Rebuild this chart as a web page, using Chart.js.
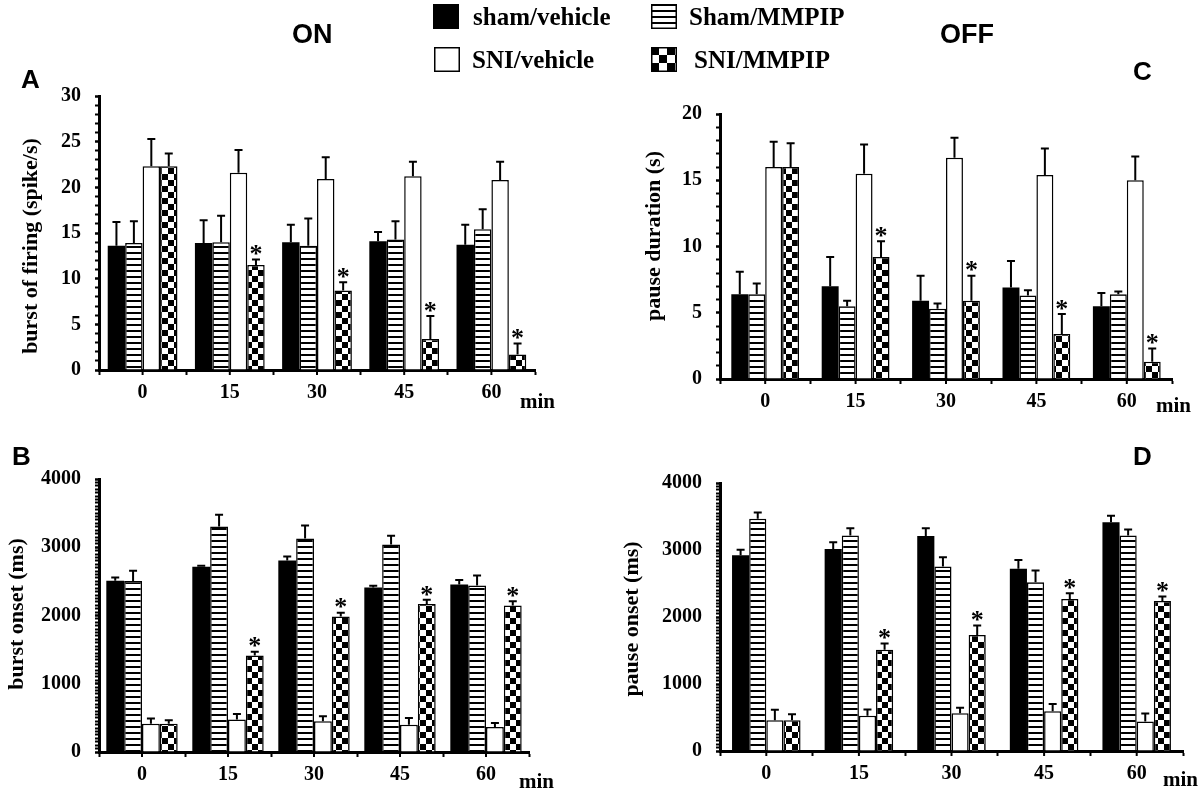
<!DOCTYPE html>
<html>
<head>
<meta charset="utf-8">
<title>ON / OFF cell firing</title>
<script src="https://cdn.jsdelivr.net/npm/chart.js@4/dist/chart.umd.min.js"></script>
<style>
    body { margin: 0; background: #fff; }
    #fig { position: relative; width: 1200px; height: 794px; }
    #fig canvas { position: absolute; left: 0; top: 0; }
</style>
</head>
<body>
<div id="fig">
    <canvas id="chartA" width="1200" height="794"></canvas>
    <canvas id="chartB" width="1200" height="794"></canvas>
    <canvas id="chartC" width="1200" height="794"></canvas>
    <canvas id="chartD" width="1200" height="794"></canvas>
</div>
<script>
/* ---------- data ---------- */
const minutes = ['0', '15', '30', '45', '60'];
const groupNames = ['sham/vehicle', 'Sham/MMPIP', 'SNI/vehicle', 'SNI/MMPIP'];
const sigMarks = ['', '*', '*', '*', '*'];   // over SNI/MMPIP

// A: burst of firing (spike/s)
const burstShamVeh = [13.6, 13.9, 14.0, 14.1, 13.7];
const burstShamVehSem = [2.6, 2.5, 1.9, 1.0, 2.2];
const burstShamMmpip = [13.9, 14.0, 13.6, 14.3, 15.4];
const burstShamMmpipSem = [2.4, 2.9, 3.0, 2.0, 2.2];
const burstSniVeh = [22.3, 21.6, 20.9, 21.2, 20.8];
const burstSniVehSem = [3.0, 2.5, 2.4, 1.6, 2.0];
const burstSniMmpip = [22.3, 11.5, 8.7, 3.4, 1.7];
const burstSniMmpipSem = [1.4, 0.6, 0.9, 2.5, 1.2];

// B: burst onset (ms)
const onsetShamVeh = [2510, 2715, 2805, 2410, 2455];
const onsetShamVehSem = [45, 15, 60, 25, 65];
const onsetShamMmpip = [2505, 3305, 3130, 3040, 2440];
const onsetShamMmpipSem = [150, 170, 190, 130, 145];
const onsetSniVeh = [415, 475, 450, 400, 365];
const onsetSniVehSem = [75, 80, 75, 100, 60];
const onsetSniMmpip = [415, 1415, 1985, 2170, 2145];
const onsetSniMmpipSem = [50, 55, 55, 60, 65];

// C: pause duration (s)
const pauseShamVeh = [6.4, 7.0, 5.9, 6.9, 5.5];
const pauseShamVehSem = [1.7, 2.2, 1.9, 2.0, 1.0];
const pauseShamMmpip = [6.4, 5.5, 5.3, 6.3, 6.4];
const pauseShamMmpipSem = [0.8, 0.4, 0.4, 0.4, 0.2];
const pauseSniVeh = [16.0, 15.5, 16.7, 15.4, 15.0];
const pauseSniVehSem = [1.9, 2.2, 1.5, 2.0, 1.8];
const pauseSniMmpip = [16.0, 9.2, 5.9, 3.4, 1.3];
const pauseSniMmpipSem = [1.8, 1.2, 1.9, 1.5, 1.0];

// D: pause onset (ms)
const pOnsetShamVeh = [2920, 3015, 3210, 2720, 3415];
const pOnsetShamVehSem = [85, 100, 115, 130, 95];
const pOnsetShamMmpip = [3465, 3215, 2755, 2520, 3215];
const pOnsetShamMmpipSem = [95, 110, 135, 175, 90];
const pOnsetSniVeh = [460, 525, 565, 595, 440];
const pOnsetSniVehSem = [155, 95, 80, 105, 120];
const pOnsetSniMmpip = [460, 1510, 1730, 2270, 2240];
const pOnsetSniMmpipSem = [90, 95, 145, 85, 65];

/* ---------- look ---------- */
const SERIF = '"Liberation Serif", "Times New Roman", serif';
const SANS = '"Liberation Sans", Arial, sans-serif';
const Y_W = 90, X_H = 45;

function makePattern(kind, cell) {
    const c = document.createElement('canvas');
    const g = c.getContext('2d');
    if (kind === 'stripes') {
        c.width = 6; c.height = 6;
        g.fillStyle = '#fff'; g.fillRect(0, 0, 6, 6);
        g.fillStyle = '#000'; g.fillRect(0, 0, 6, 2);
    } else {
        c.width = cell * 2; c.height = cell * 2;
        g.fillStyle = '#fff'; g.fillRect(0, 0, c.width, c.height);
        g.fillStyle = '#000';
        g.fillRect(0, 0, cell, cell);
        g.fillRect(cell, cell, cell, cell);
    }
    return g.createPattern(c, 'repeat');
}
const stripes = makePattern('stripes');
const checker = makePattern('checker', 6);
const checkerBig = makePattern('checker', 8);

const fills = ['#000', stripes, '#fff', checker];

/* error bars, asterisks, mid-category ticks, y title, "min" */
const panelDecor = {
    id: 'panelDecor',
    afterDatasetsDraw(chart) {
        const ctx = chart.ctx;
        const y = chart.scales.y;
        const sems = chart.options.plugins.panelDecor.sems;
        ctx.save();
        ctx.strokeStyle = '#000';
        ctx.lineWidth = 2;
        chart.data.datasets.forEach((ds, di) => {
            chart.getDatasetMeta(di).data.forEach((bar, i) => {
                const top = y.getPixelForValue(ds.data[i] + sems[di][i]);
                ctx.beginPath();
                ctx.moveTo(bar.x, bar.y);
                ctx.lineTo(bar.x, top);
                ctx.moveTo(bar.x - 4, top);
                ctx.lineTo(bar.x + 4, top);
                ctx.stroke();
                if (di === 3 && sigMarks[i]) {
                    ctx.fillStyle = '#000';
                    ctx.font = 'bold 26px ' + SERIF;
                    ctx.textAlign = 'center';
                    ctx.textBaseline = 'middle';
                    ctx.fillText(sigMarks[i], bar.x, top - 4);
                }
            });
        });
        ctx.restore();
    },
    afterDraw(chart) {
        const ctx = chart.ctx;
        const o = chart.options.plugins.panelDecor;
        const x = chart.scales.x;
        const a = chart.chartArea;
        ctx.save();
        ctx.strokeStyle = '#000';
        ctx.lineWidth = 2;
        minutes.forEach((m, i) => {
            const px = x.getPixelForValue(i);
            ctx.beginPath();
            ctx.moveTo(px, a.bottom);
            ctx.lineTo(px, a.bottom + 5);
            ctx.stroke();
        });
        ctx.fillStyle = '#000';
        ctx.font = 'bold 21px ' + SERIF;
        ctx.textAlign = 'left';
        ctx.textBaseline = 'middle';
        ctx.fillText('min', a.right + o.minDx, a.bottom + o.minDy);

        ctx.translate(o.titleX, o.titleY);
        ctx.rotate(-Math.PI / 2);
        ctx.font = 'bold 22px ' + SERIF;
        ctx.textAlign = 'center';
        ctx.fillText(o.title, 0, 0);
        ctx.restore();
    }
};

/* figure-level texts and legend, drawn once on chart A */
const figureText = {
    id: 'figureText',
    afterDraw(chart) {
        const ctx = chart.ctx;
        ctx.save();
        ctx.fillStyle = '#000';
        ctx.textBaseline = 'alphabetic';
        ctx.font = 'bold 27px ' + SANS;
        ctx.fillText('ON', 292, 43);
        ctx.fillText('OFF', 940, 43);
        ctx.font = 'bold 26px ' + SANS;
        ctx.fillText('A', 21, 88);
        ctx.fillText('C', 1133, 80);
        ctx.fillText('B', 12, 465);
        ctx.fillText('D', 1133, 465);

        const swatches = [
            { x: 433, y: 4, fill: '#000', label: groupNames[0], tx: 473, ty: 25 },
            { x: 651, y: 4, fill: stripes, label: groupNames[1], tx: 689, ty: 25 },
            { x: 434, y: 47, fill: '#fff', label: groupNames[2], tx: 472, ty: 68 },
            { x: 651, y: 47, fill: checkerBig, label: groupNames[3], tx: 694, ty: 68 }
        ];
        swatches.forEach(s => {
            ctx.save();
            ctx.translate(s.x, s.y);
            ctx.fillStyle = s.fill;
            ctx.fillRect(0, 0, 26, 25);
            ctx.strokeStyle = '#000';
            ctx.lineWidth = 1.5;
            ctx.strokeRect(0.75, 0.75, 24.5, 23.5);
            ctx.restore();
            ctx.font = 'bold 25px ' + SERIF;
            ctx.fillText(s.label, s.tx, s.ty);
        });
        ctx.restore();
    }
};

function buildPanel(id, p) {
    const a = p.area;
    const datasets = p.means.map((vals, i) => ({
        label: groupNames[i],
        data: vals,
        backgroundColor: fills[i],
        borderColor: '#000',
        borderWidth: i === 0 ? 0 : 1.5,
        barPercentage: 1,
        categoryPercentage: p.catPct
    }));
    const tickFont = { family: SERIF, size: 20, weight: 'bold' };
    return new Chart(document.getElementById(id), {
        type: 'bar',
        data: { labels: minutes, datasets },
        options: {
            responsive: false,
            animation: false,
            devicePixelRatio: 1,
            layout: {
                padding: { left: a.left - Y_W, top: a.top, right: 1200 - a.right, bottom: 794 - a.bottom - X_H }
            },
            plugins: {
                legend: { display: false },
                tooltip: { enabled: false },
                panelDecor: { sems: p.sems, title: p.title, titleX: p.titleX, titleY: p.titleY, minDx: p.minDx, minDy: p.minDy }
            },
            scales: {
                x: {
                    grid: { display: true, drawOnChartArea: false, drawTicks: true, tickLength: 5, tickWidth: 2, tickColor: '#000', offset: true },
                    border: { display: true, color: '#000', width: 3 },
                    ticks: { font: tickFont, color: '#000', padding: 6, maxRotation: 0, autoSkip: false },
                    afterFit: s => { s.height = X_H; }
                },
                y: {
                    min: 0, max: p.yMax,
                    grid: { drawOnChartArea: false, drawTicks: true, tickLength: 4, tickColor: '#000',
                            tickWidth: c => (c.tick && c.tick.value % p.yMajor === 0) ? 2.5 : 2 },
                    border: { display: true, color: '#000', width: 3 },
                    ticks: {
                        stepSize: p.yMinor, autoSkip: false, font: tickFont, color: '#000', padding: 14,
                        callback: v => (v % p.yMajor === 0 ? v : '')
                    },
                    afterFit: s => { s.width = Y_W; }
                }
            }
        },
        plugins: p.extra ? [panelDecor, p.extra] : [panelDecor]
    });
}

buildPanel('chartA', {
    means: [burstShamVeh, burstShamMmpip, burstSniVeh, burstSniMmpip],
    sems: [burstShamVehSem, burstShamMmpipSem, burstSniVehSem, burstSniMmpipSem],
    yMax: 30, yMajor: 5, yMinor: 1, catPct: 0.8,
    area: { left: 99, right: 535, top: 96, bottom: 370 },
    title: 'burst of firing (spike/s)', titleX: 31, titleY: 246,
    minDx: -15, minDy: 33,
    extra: figureText
});
buildPanel('chartB', {
    means: [onsetShamVeh, onsetShamMmpip, onsetSniVeh, onsetSniMmpip],
    sems: [onsetShamVehSem, onsetShamMmpipSem, onsetSniVehSem, onsetSniMmpipSem],
    yMax: 4000, yMajor: 1000, yMinor: 50, catPct: 0.83,
    area: { left: 99, right: 529, top: 479, bottom: 752 },
    title: 'burst onset (ms)', titleX: 17, titleY: 614,
    minDx: -10, minDy: 31
});
buildPanel('chartC', {
    means: [pauseShamVeh, pauseShamMmpip, pauseSniVeh, pauseSniMmpip],
    sems: [pauseShamVehSem, pauseShamMmpipSem, pauseSniVehSem, pauseSniMmpipSem],
    yMax: 20, yMajor: 5, yMinor: 1, catPct: 0.75,
    area: { left: 720, right: 1172, top: 114, bottom: 379 },
    title: 'pause duration (s)', titleX: 654, titleY: 236,
    minDx: -16, minDy: 28
});
buildPanel('chartD', {
    means: [pOnsetShamVeh, pOnsetShamMmpip, pOnsetSniVeh, pOnsetSniMmpip],
    sems: [pOnsetShamVehSem, pOnsetShamMmpipSem, pOnsetSniVehSem, pOnsetSniMmpipSem],
    yMax: 4000, yMajor: 1000, yMinor: 50, catPct: 0.74,
    area: { left: 720, right: 1183, top: 483, bottom: 751 },
    title: 'pause onset (ms)', titleX: 632, titleY: 619,
    minDx: -20, minDy: 30
});
</script>
</body>
</html>
